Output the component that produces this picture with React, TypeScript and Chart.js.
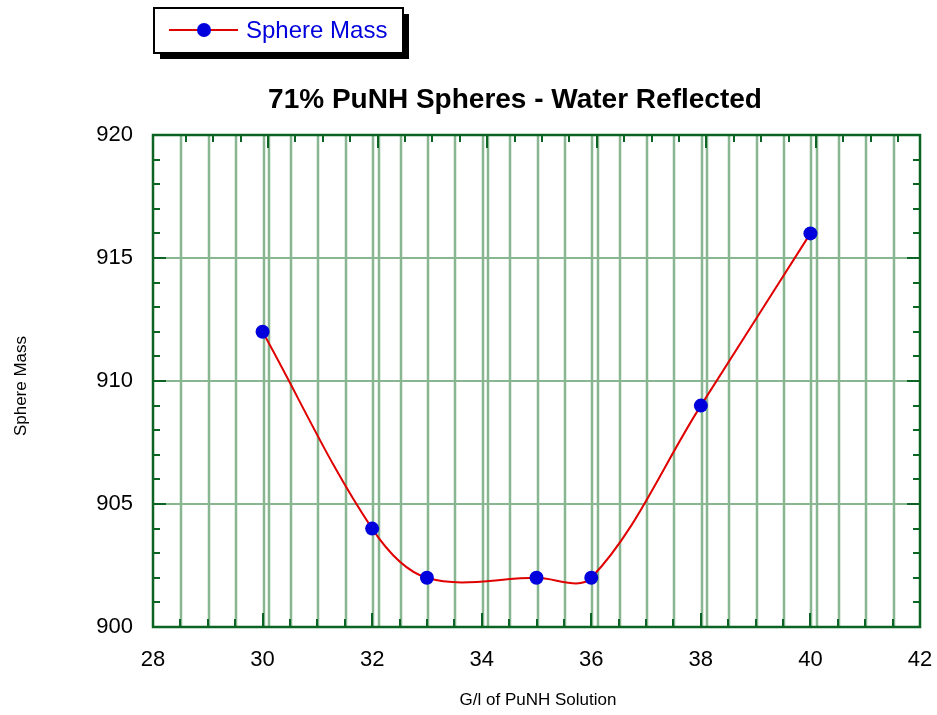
import React, { useEffect, useRef } from 'react';
import { Chart, registerables } from 'chart.js';

Chart.register(...registerables);

// ---- data ----
const xValues = [30, 32, 33, 35, 36, 38, 40];
const massValues = [912, 904, 902, 902, 902, 909, 916];
const xTickValues = [28, 30, 32, 34, 36, 38, 40, 42];
const yTickValues = [900, 905, 910, 915, 920];
const seriesName = 'Sphere Mass';
const titleText = '71% PuNH Spheres - Water Reflected';
const xTitle = 'G/l of PuNH Solution';
const yTitle = 'Sphere Mass';

const FONT = '"Liberation Sans", Arial, Helvetica, sans-serif';
const GRID = '#88b691';
const FRAME = '#0b6423';
const LINE = '#e00000';
const MARK = '#0000dd';

const decor = {
  id: 'decor',
  beforeDatasetsDraw(chart: any) {
    const { ctx, chartArea: a, scales } = chart;
    const xs = scales.x;
    const ys = scales.y;
    ctx.save();
    ctx.strokeStyle = GRID;
    ctx.lineWidth = 2.5;
    for (let v = 28.5; v < 42; v += 0.5) {
      const px = Math.round(xs.getPixelForValue(v)) + 1;
      ctx.beginPath();
      ctx.moveTo(px, a.top);
      ctx.lineTo(px, a.bottom);
      ctx.stroke();
    }
    for (let v = 30; v <= 40; v += 2) {
      const px = Math.round(xs.getPixelForValue(v + 0.1)) + 1;
      ctx.beginPath();
      ctx.moveTo(px, a.top);
      ctx.lineTo(px, a.bottom);
      ctx.stroke();
    }
    ctx.lineWidth = 2;
    for (let v = 905; v < 920; v += 5) {
      const py = Math.round(ys.getPixelForValue(v));
      ctx.beginPath();
      ctx.moveTo(a.left, py);
      ctx.lineTo(a.right, py);
      ctx.stroke();
    }
    ctx.restore();
  },
  afterDraw(chart: any) {
    const { ctx, chartArea: a, scales } = chart;
    const xs = scales.x;
    const ys = scales.y;
    ctx.save();
    ctx.strokeStyle = FRAME;
    ctx.lineWidth = 2;
    for (let v = 28.5; v < 42; v += 0.5) {
      const major = Math.abs(v % 2) < 1e-6;
      const pb = Math.round(xs.getPixelForValue(v));
      ctx.beginPath();
      ctx.moveTo(pb, a.bottom);
      ctx.lineTo(pb, a.bottom - (major ? 14 : 8));
      ctx.stroke();
      const pt = Math.round(xs.getPixelForValue(v + 0.1));
      ctx.beginPath();
      ctx.moveTo(pt, a.top);
      ctx.lineTo(pt, a.top + (major ? 13 : 7));
      ctx.stroke();
    }
    for (let v = 901; v < 920; v += 1) {
      const major = v % 5 === 0;
      const py = Math.round(ys.getPixelForValue(v));
      const len = major ? 13 : 7;
      ctx.beginPath();
      ctx.moveTo(a.left, py);
      ctx.lineTo(a.left + len, py);
      ctx.moveTo(a.right, py);
      ctx.lineTo(a.right - len, py);
      ctx.stroke();
    }
    ctx.lineWidth = 2.5;
    ctx.strokeRect(a.left, a.top, a.right - a.left, a.bottom - a.top);

    // title
    ctx.fillStyle = '#000';
    ctx.textAlign = 'center';
    ctx.textBaseline = 'middle';
    ctx.font = `bold 28px ${FONT}`;
    ctx.fillText(titleText, 515, 100);

    // axis titles
    ctx.font = `17px ${FONT}`;
    ctx.fillText(xTitle, 538, 700);
    ctx.save();
    ctx.translate(21, 386);
    ctx.rotate(-Math.PI / 2);
    ctx.fillText(yTitle, 0, 0);
    ctx.restore();

    // legend
    const lx = 154, ly = 8, lw = 249, lh = 45;
    ctx.fillStyle = '#000';
    ctx.fillRect(lx + 6, ly + 6, lw, lh);
    ctx.fillStyle = '#fff';
    ctx.fillRect(lx, ly, lw, lh);
    ctx.strokeStyle = '#000';
    ctx.lineWidth = 2;
    ctx.strokeRect(lx, ly, lw, lh);
    ctx.strokeStyle = LINE;
    ctx.lineWidth = 2;
    ctx.beginPath();
    ctx.moveTo(169, 30);
    ctx.lineTo(238, 30);
    ctx.stroke();
    ctx.fillStyle = MARK;
    ctx.beginPath();
    ctx.arc(204, 30, 7, 0, Math.PI * 2);
    ctx.fill();
    ctx.font = `24px ${FONT}`;
    ctx.textAlign = 'left';
    ctx.fillText(seriesName, 246, 31);
    ctx.restore();
  },
};

export default function App() {
  const ref = useRef<HTMLCanvasElement>(null);
  useEffect(() => {
    if (!ref.current) return;
    const chart = new Chart(ref.current, {
      type: 'line',
      data: {
        datasets: [
          {
            label: seriesName,
            data: xValues.map((x, i) => ({ x, y: massValues[i] })),
            borderColor: LINE,
            borderWidth: 2,
            pointRadius: 7,
            pointBackgroundColor: MARK,
            pointBorderColor: MARK,
            pointBorderWidth: 0,
            tension: 0.35,
            clip: false as any,
          },
        ],
      },
      options: {
        responsive: false,
        animation: false,
        layout: { padding: { top: 135, right: 17, left: 0, bottom: 0 } },
        plugins: {
          legend: { display: false },
          title: { display: false },
          tooltip: { enabled: false },
        },
        scales: {
          x: {
            type: 'linear',
            min: 28,
            max: 42,
            afterBuildTicks: (s: any) => {
              s.ticks = xTickValues.map((v) => ({ value: v }));
            },
            afterFit: (s: any) => {
              s.height = 88;
              s.paddingRight = 0;
              s.paddingLeft = 0;
            },
            grid: { display: false, drawTicks: false },
            border: { display: false },
            ticks: {
              padding: 20,
              color: '#000',
              font: { size: 22, family: FONT },
              maxRotation: 0,
              autoSkip: false,
            },
          },
          y: {
            type: 'linear',
            min: 900,
            max: 920,
            afterBuildTicks: (s: any) => {
              s.ticks = yTickValues.map((v) => ({ value: v }));
            },
            afterFit: (s: any) => {
              s.width = 153;
              s.paddingTop = 0;
              s.paddingBottom = 0;
            },
            grid: { display: false, drawTicks: false },
            border: { display: false },
            ticks: {
              padding: 20,
              color: '#000',
              font: { size: 22, family: FONT },
              autoSkip: false,
            },
          },
        },
      },
      plugins: [decor],
    });
    return () => chart.destroy();
  }, []);
  return (
    <div style={{ position: 'fixed', left: 0, top: 0, width: 937, height: 715, background: '#fff' }}>
      <canvas ref={ref} width={937} height={715} style={{ display: 'block' }} />
    </div>
  );
}
